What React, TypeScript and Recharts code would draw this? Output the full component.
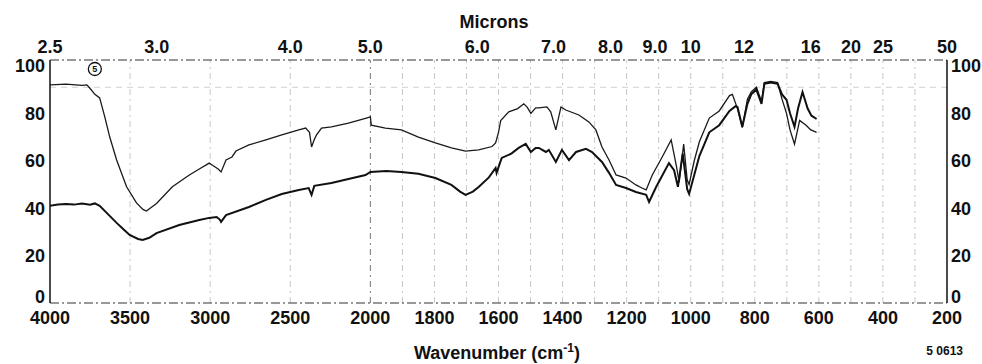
import {
  LineChart,
  Line,
  XAxis,
  YAxis,
  ReferenceLine,
  ReferenceDot,
} from "recharts";

// IR spectrum: % transmittance vs wavenumber, scale doubles below 2000 cm-1
const upperTrace: [number, number][] = [
  [4000, 92], [3900, 92.3], [3800, 91.8], [3770, 92], [3752, 90.7], [3720, 88],
  [3690, 86.5], [3658, 78.5], [3627, 70], [3584, 60.3], [3522, 49], [3460, 42.2],
  [3420, 39.5], [3398, 38.8], [3335, 42], [3236, 49], [3130, 54], [3068, 56.5],
  [3006, 59], [2988, 58.2], [2950, 56.5], [2932, 55.3], [2901, 60.3], [2864, 61.6],
  [2839, 64.1], [2758, 66.7], [2652, 68.8], [2553, 70.9], [2447, 73], [2404, 73.8],
  [2380, 72], [2367, 65.8], [2350, 69], [2336, 70.9], [2305, 73.8], [2243, 74.3],
  [2137, 75.9], [2025, 78], [2000, 78.5], [1997, 75], [1953, 73.8], [1903, 73],
  [1850, 70], [1797, 67.5], [1747, 65.4], [1703, 64.1], [1662, 64.6], [1620, 66],
  [1609, 67.5], [1600, 72], [1593, 77], [1568, 80.6], [1540, 82], [1521, 84],
  [1510, 82.5], [1499, 80], [1484, 82.3], [1474, 82.3], [1449, 82.7], [1437, 80.6],
  [1421, 73], [1405, 82.7], [1390, 81.4], [1349, 79.3], [1318, 76.4], [1296, 73],
  [1277, 65.8], [1255, 60.3], [1233, 54], [1202, 52.7], [1171, 49.8], [1152, 48.5],
  [1139, 47.7], [1120, 54], [1089, 61.6], [1061, 68.8], [1045, 58], [1036, 51],
  [1022, 67], [1011, 52], [1005, 50], [989, 60], [973, 68], [942, 78], [911, 81],
  [879, 87.5], [870, 88], [854, 82], [839, 74], [823, 86], [811, 89], [795, 91],
  [779, 85], [770, 93], [750, 93.5], [729, 93], [715, 86], [701, 80], [690, 73],
  [676, 67], [660, 77], [640, 75], [625, 73], [607, 72],
];

const lowerTrace: [number, number][] = [
  [4000, 41], [3950, 41.5], [3900, 41.8], [3850, 41.5], [3800, 42], [3750, 41.5],
  [3720, 42], [3690, 41], [3646, 38], [3584, 33.8], [3540, 31], [3503, 28.7],
  [3450, 27], [3422, 26.6], [3380, 27.5], [3335, 29.5], [3193, 32.9], [3068, 35],
  [3006, 35.9], [2960, 36.3], [2940, 35.2], [2932, 34.2], [2901, 37.1], [2758, 40.5],
  [2652, 43.5], [2553, 46], [2447, 47.7], [2385, 48.5], [2367, 45.6], [2350, 49.4],
  [2243, 50.6], [2137, 52.3], [2030, 54], [2000, 55.3], [1950, 55.7], [1903, 55.3],
  [1850, 54.5], [1797, 52.7], [1747, 49.8], [1720, 47], [1703, 45.6], [1680, 47],
  [1662, 48.9], [1630, 53], [1609, 57], [1606, 54.9], [1590, 61.2], [1560, 63],
  [1537, 65.4], [1515, 67.1], [1499, 63.7], [1484, 65.4], [1474, 65.4], [1452, 63.7],
  [1443, 64.6], [1421, 59.5], [1402, 64.6], [1380, 60.3], [1358, 63.7], [1327, 65],
  [1308, 63.7], [1277, 59.5], [1255, 54.9], [1233, 49.8], [1202, 48.5], [1171, 46.8],
  [1139, 45.6], [1130, 42.6], [1108, 48.9], [1068, 59], [1052, 56], [1040, 49],
  [1025, 63], [1011, 48], [1005, 46], [989, 54], [973, 62], [942, 72], [911, 75],
  [879, 81], [860, 83], [854, 82.7], [839, 74.3], [823, 84], [811, 88], [795, 90],
  [779, 84], [770, 92.5], [750, 93], [729, 92.5], [715, 88], [701, 85.7], [690, 80],
  [676, 74.3], [665, 82], [651, 89], [635, 82], [623, 79], [607, 77.6],
];

const wavenumberTicks = [4000, 3500, 3000, 2500, 2000, 1800, 1600, 1400, 1200, 1000, 800, 600, 400, 200];
const micronTicks = [2.5, 3.0, 4.0, 5.0, 6.0, 7.0, 8.0, 9.0, 10, 12, 16, 20, 25, 50];
const percentTicks = [0, 20, 40, 60, 80, 100];
const gridWavenumbers = [
  3500, 3000, 2500, 2000, 1900, 1800, 1700, 1600, 1500, 1400, 1300, 1200, 1100,
  1000, 900, 800, 700, 600, 500, 400, 300,
];

// 4000-2000 takes half the width per cm-1 of 2000-200
const toX = (wn: number) => (wn >= 2000 ? (4000 - wn) / 2 : 1000 + (2000 - wn));
const fromXExact = (x: number) => (x <= 1000 ? 4000 - 2 * x : 2000 - (x - 1000));
const fromX = (x: number) => Math.round(fromXExact(x));
const micronLabel = (x: number) => {
  const r = Math.round((10000 / fromXExact(x)) * 10) / 10;
  return r < 10 ? r.toFixed(1) : String(Math.round(r));
};

const toPoints = (trace: [number, number][]) => trace.map(([wn, t]) => ({ x: toX(wn), t }));

const font = "'Liberation Sans', Arial, Helvetica, sans-serif";
const tickStyle = { fill: "#111", fontSize: 18, fontWeight: 700, fontFamily: font };
const frameDash = "9 3 2 3";

// the 0 label sits a little above the bottom frame, as on the printed chart
function PercentTick(props: any) {
  const { x, y, payload, textAnchor } = props;
  return (
    <text x={x} y={payload.value === 0 ? y - 6 : y} dy="0.36em" textAnchor={textAnchor} {...tickStyle}>
      {payload.value}
    </text>
  );
}

export default function App() {
  return (
    <div style={{ position: "absolute", left: 0, top: 0, width: 982, height: 364, background: "#fff", fontFamily: font }}>
      <LineChart width={982} height={364} margin={{ top: 30, right: 5, bottom: 31, left: 8 }}>
        <XAxis
          xAxisId="bottom"
          type="number"
          dataKey="x"
          domain={[0, 2800]}
          ticks={wavenumberTicks.map(toX)}
          tickFormatter={fromX}
          interval={0}
          height={30}
          tickSize={0}
          tickMargin={8}
          tick={tickStyle}
          axisLine={{ stroke: "#333", strokeWidth: 1.2, strokeDasharray: frameDash }}
          allowDataOverflow
        />
        <XAxis
          xAxisId="top"
          orientation="top"
          type="number"
          dataKey="x"
          domain={[0, 2800]}
          ticks={micronTicks.map((m) => toX(10000 / m))}
          tickFormatter={micronLabel}
          interval={0}
          height={30}
          tickSize={0}
          tickMargin={7}
          tick={tickStyle}
          axisLine={{ stroke: "#333", strokeWidth: 1.2, strokeDasharray: frameDash }}
          allowDataOverflow
        />
        <YAxis
          yAxisId="left"
          type="number"
          domain={[0, 102.5]}
          ticks={percentTicks}
          interval={0}
          width={42}
          tickSize={0}
          tickMargin={5}
          tick={<PercentTick />}
          axisLine={{ stroke: "#111", strokeWidth: 1.5 }}
          allowDataOverflow
        />
        <YAxis
          yAxisId="right"
          orientation="right"
          type="number"
          domain={[0, 102.5]}
          ticks={percentTicks}
          interval={0}
          width={30}
          tickSize={0}
          tickMargin={4}
          tick={<PercentTick />}
          axisLine={{ stroke: "#111", strokeWidth: 1.5 }}
          allowDataOverflow
        />
        {gridWavenumbers.map((wn) => (
          <ReferenceLine
            key={wn}
            xAxisId="bottom"
            yAxisId="left"
            x={toX(wn)}
            stroke={wn === 2000 ? "#777" : "#c8c8c8"}
            strokeDasharray="6 4 2 4"
          />
        ))}
        <ReferenceLine xAxisId="bottom" yAxisId="left" y={91} stroke="#d0d0d0" strokeDasharray="6 5" />
        <ReferenceDot
          xAxisId="bottom"
          yAxisId="left"
          x={toX(3720)}
          y={98.7}
          r={6.5}
          fill="#fff"
          stroke="#111"
          strokeWidth={1.3}
          label={{ value: "5", position: "center", fontSize: 9, fontWeight: 700, fill: "#111" }}
        />
        <Line
          xAxisId="bottom"
          yAxisId="left"
          data={toPoints(upperTrace)}
          dataKey="t"
          type="linear"
          stroke="#1a1a1a"
          strokeWidth={1.3}
          dot={false}
          isAnimationActive={false}
        />
        <Line
          xAxisId="bottom"
          yAxisId="left"
          data={toPoints(lowerTrace)}
          dataKey="t"
          type="linear"
          stroke="#111"
          strokeWidth={2}
          dot={false}
          isAnimationActive={false}
        />
      </LineChart>
      <div style={{ position: "absolute", left: 494, top: 12, transform: "translateX(-50%)", fontSize: 18, fontWeight: 700, color: "#111" }}>
        Microns
      </div>
      <div style={{ position: "absolute", left: 497, top: 341, transform: "translateX(-50%)", fontSize: 18, fontWeight: 700, color: "#111", whiteSpace: "nowrap" }}>
        Wavenumber (cm<sup style={{ fontSize: 12 }}>-1</sup>)
      </div>
      <div style={{ position: "absolute", right: 19, top: 344, fontSize: 12, fontWeight: 700, color: "#111" }}>
        5 0613
      </div>
    </div>
  );
}
